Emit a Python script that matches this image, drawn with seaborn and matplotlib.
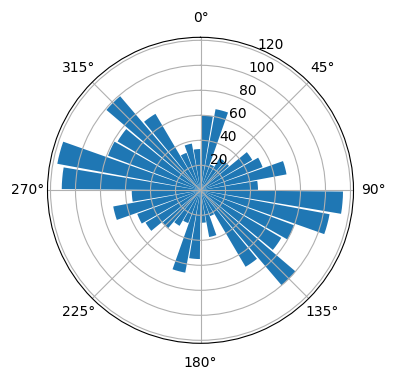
import numpy as np
import pandas as pd
import matplotlib
matplotlib.use("Agg")
import matplotlib.pyplot as plt
import seaborn as sns

# direction bins (degrees, start of each 10-degree sector)
bin_start_deg = list(range(0, 360, 10))
# bar lengths
counts = [60, 66, 22, 30, 30, 48, 53, 70, 46, 114, 105, 80, 75, 100, 71, 22, 38, 26,
          55, 67, 28, 33, 40, 51, 54, 71, 55, 111, 116.5, 79, 77, 99, 71, 32, 38, 33]
theta_ticks = [0, 45, 90, 135, 180, 225, 270, 315]
r_ticks = [20, 40, 60, 80, 100, 120]

bin_width_deg = 10
df = pd.DataFrame({
    "theta": np.deg2rad(np.array(bin_start_deg) + bin_width_deg / 2),
    "r": counts,
})

fig = plt.figure(figsize=(3.96, 3.80), dpi=100)
R = 153
cx, cy = 200.5, 190.3
ax = fig.add_axes([(cx - R) / 396, (380 - cy - R) / 380, 2 * R / 396, 2 * R / 380],
                  projection="polar")
ax.set_theta_zero_location("N")
ax.set_theta_direction(-1)

sns.barplot(data=df, x="theta", y="r", native_scale=True, orient="x",
            width=0.9, color=sns.color_palette()[0], saturation=1,
            errorbar=None, ax=ax)

ax.set_xlabel("")
ax.set_ylabel("")
ax.set_xticks(np.deg2rad(theta_ticks))
ax.set_xticklabels([f"{t}°" for t in theta_ticks])
ax.set_yticks(r_ticks)
ax.set_ylim(0, 122.4)
ax.grid(True)

fig.savefig("out.png", dpi=100)
